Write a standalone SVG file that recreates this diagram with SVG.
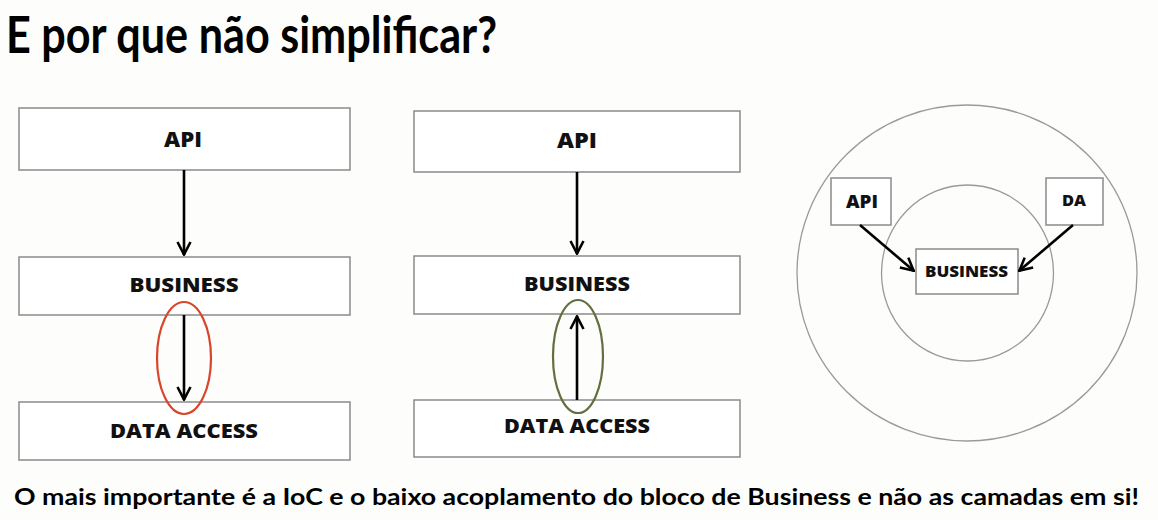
<svg xmlns="http://www.w3.org/2000/svg" width="1158" height="520" viewBox="0 0 1158 520">
<style>
.box{fill:#fff;stroke:#8a8a8a;stroke-width:1.5}
.ring{fill:none;stroke:#9a9a9a;stroke-width:1.3}
.lbl{font-family:"Open Sans","DejaVu Sans",sans-serif;font-weight:800;fill:#111;text-anchor:middle}
.conn{stroke:#000;stroke-width:2.6;fill:none}
.title{font-family:Lato,"Open Sans",sans-serif;font-weight:700;fill:#000}
</style>
<defs>
<marker id="arr" viewBox="0 0 16 16" refX="15" refY="8" markerWidth="16" markerHeight="16" markerUnits="userSpaceOnUse" orient="auto">
<path d="M2,1.5 L14.5,8 L2,14.5" fill="none" stroke="#000" stroke-width="2.6"/>
</marker>
</defs>
<rect width="1158" height="520" fill="#fdfdfb"/>
<text class="title" x="6" y="53" font-size="52" textLength="491" lengthAdjust="spacingAndGlyphs">E por que não simplificar?</text>

<g id="l-api"><rect class="box" x="19" y="108" width="331" height="62"/><text class="lbl" x="183" y="147" font-size="21" textLength="38" lengthAdjust="spacingAndGlyphs">API</text></g>
<g id="l-business"><rect class="box" x="19" y="257" width="331" height="58"/><text class="lbl" x="184" y="292" font-size="20" textLength="109" lengthAdjust="spacingAndGlyphs">BUSINESS</text></g>
<g id="l-da"><rect class="box" x="19" y="402" width="331" height="58"/><text class="lbl" x="184" y="438" font-size="20" textLength="148" lengthAdjust="spacingAndGlyphs">DATA ACCESS</text></g>

<g id="m-api"><rect class="box" x="414" y="111" width="326" height="61"/><text class="lbl" x="577" y="148" font-size="21" textLength="40" lengthAdjust="spacingAndGlyphs">API</text></g>
<g id="m-business"><rect class="box" x="414" y="256" width="326" height="58"/><text class="lbl" x="577" y="291" font-size="20" textLength="106" lengthAdjust="spacingAndGlyphs">BUSINESS</text></g>
<g id="m-da"><rect class="box" x="414" y="400" width="326" height="57"/><text class="lbl" x="577" y="433" font-size="20" textLength="146" lengthAdjust="spacingAndGlyphs">DATA ACCESS</text></g>

<g id="rings">
<ellipse class="ring" cx="967" cy="273" rx="170" ry="168"/>
<ellipse class="ring" cx="967.5" cy="273" rx="86" ry="88"/>
</g>
<g id="r-api"><rect class="box" x="831" y="178" width="60" height="47"/><text class="lbl" x="862" y="208" font-size="18" textLength="32" lengthAdjust="spacingAndGlyphs">API</text></g>
<g id="r-da"><rect class="box" x="1046" y="178" width="57" height="47"/><text class="lbl" x="1074" y="206" font-size="16" textLength="24" lengthAdjust="spacingAndGlyphs">DA</text></g>
<g id="r-business"><rect class="box" x="916" y="249" width="102" height="45"/><text class="lbl" x="966.5" y="277" font-size="16" textLength="83" lengthAdjust="spacingAndGlyphs">BUSINESS</text></g>

<g id="connectors">
<line class="conn" x1="184" y1="170" x2="184" y2="255" marker-end="url(#arr)"/>
<line class="conn" x1="184" y1="315" x2="184" y2="400" marker-end="url(#arr)"/>
<line class="conn" x1="577" y1="172" x2="577" y2="254" marker-end="url(#arr)"/>
<line class="conn" x1="577" y1="400" x2="577" y2="316" marker-end="url(#arr)"/>
<line class="conn" x1="860" y1="225" x2="914" y2="271" marker-end="url(#arr)"/>
<line class="conn" x1="1073" y1="225" x2="1019" y2="271" marker-end="url(#arr)"/>
</g>
<g id="highlights">
<ellipse cx="184" cy="358" rx="27" ry="56" fill="none" stroke="#d8452c" stroke-width="2.2"/>
<ellipse cx="578" cy="356.5" rx="25" ry="56.5" fill="none" stroke="#62703f" stroke-width="2.2"/>
</g>
<text class="title" x="14" y="505" font-size="22" textLength="1125" lengthAdjust="spacingAndGlyphs">O mais importante é a IoC e o baixo acoplamento do bloco de Business e não as camadas em si!</text>
</svg>
